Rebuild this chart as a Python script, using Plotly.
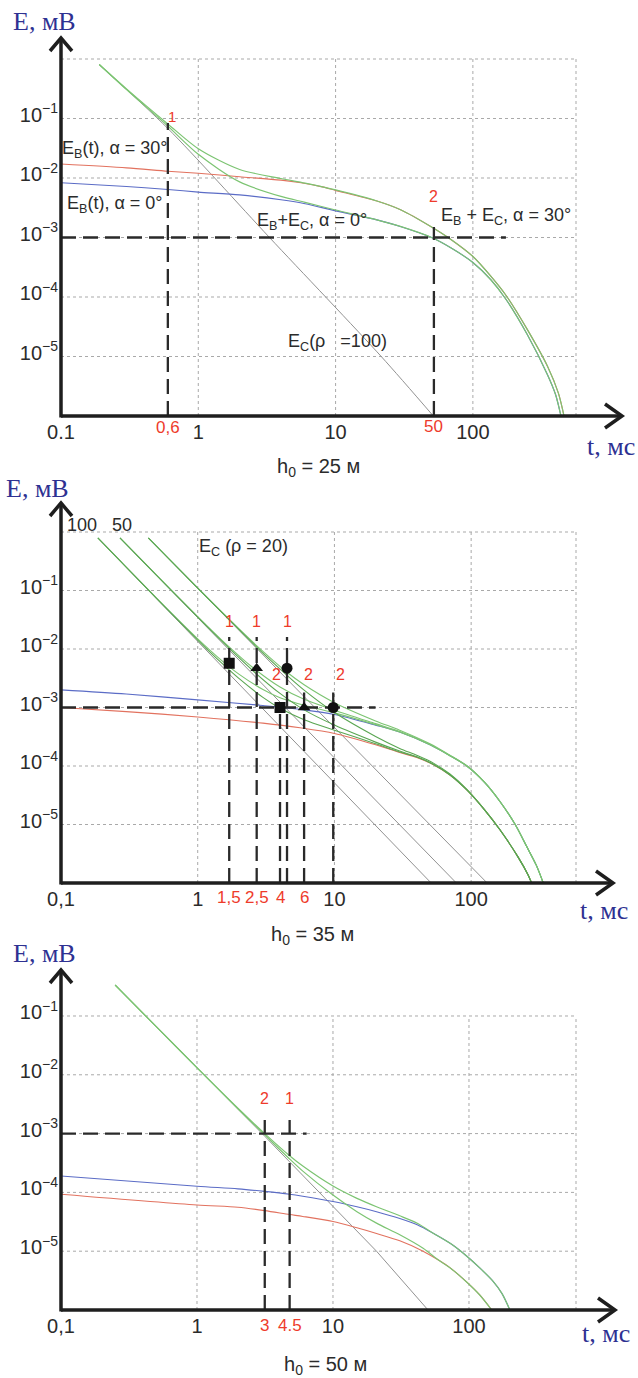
import math
import plotly.graph_objects as go

# ---------------- DATA ----------------
# Panel 1: h0 = 25 m
T1_GRAY = [0.19, 0.6, 3.3, 21.5, 51.5]
E1_GRAY = [0.80, 0.068, 1e-3, 1e-5, 1e-6]
T1_RED = [0.1, 0.3, 0.6, 1, 2, 4, 5.6, 8, 10, 20, 30, 50, 70, 100, 135, 175, 250, 350, 420, 461]
E1_RED = [0.0172, 0.0148, 0.013, 0.012, 0.0105, 0.0092, 0.0083, 0.0071, 0.0062, 0.0041, 0.0029,
          0.0015, 9.1e-4, 4.8e-4, 2.24e-4, 1.05e-4, 2.8e-5, 6.8e-6, 2.4e-6, 1e-6]
T1_BLUE = [0.1, 0.3, 0.6, 1, 2, 4, 6, 10, 20, 30, 50, 70, 100, 135, 175, 250, 350, 400, 438]
E1_BLUE = [0.0083, 0.0072, 0.0064, 0.0058, 0.0052, 0.0043, 0.0037, 0.0028, 0.00198, 0.00152,
           1e-3, 6.6e-4, 3.8e-4, 1.95e-4, 9.0e-5, 2.3e-5, 4.9e-6, 2.3e-6, 1e-6]
T1_G30 = [0.19, 0.3, 0.6, 1, 2, 4, 6, 10, 20, 30, 50, 70, 100, 135, 175, 250, 350, 420, 461]
E1_G30 = [0.81, 0.315, 0.081, 0.031, 0.0139, 0.0098, 0.0082, 0.0063, 0.0041, 0.0029, 0.0015,
          9.1e-4, 4.8e-4, 2.24e-4, 1.05e-4, 2.8e-5, 6.8e-6, 2.4e-6, 1e-6]
T1_G0 = [0.19, 0.3, 0.6, 1, 2, 4, 6, 10, 20, 30, 50, 70, 100, 135, 175, 250, 350, 400, 438]
E1_G0 = [0.81, 0.307, 0.0744, 0.025, 0.0086, 0.0049, 0.0039, 0.0029, 0.00198, 0.00152, 1e-3,
         6.6e-4, 3.8e-4, 1.95e-4, 9.0e-5, 2.3e-5, 4.9e-6, 2.3e-6, 1e-6]
GUIDE1_H_T = [0.1, 174]
GUIDE1_H_E = [1e-3, 1e-3]
GUIDE1_V_T = [0.6, 52]
GUIDE1_V_TOP = [0.084, 0.0015]

# Panel 2: h0 = 35 m
T2_GRAY100 = [0.186, 51]
E2_GRAY100 = [0.79, 1e-6]
T2_GRAY50 = [0.27, 78]
E2_GRAY50 = [0.79, 1e-6]
T2_GRAY20 = [0.435, 131]
E2_GRAY20 = [0.79, 1e-6]
T2_BLUE = [0.1, 0.3, 1, 3, 5.6, 10, 20, 30, 50, 70, 93, 125, 162, 210, 255, 300, 337]
E2_BLUE = [0.0020, 0.0017, 0.00135, 0.00108, 9.3e-4, 7.6e-4, 5.0e-4, 3.8e-4, 2.3e-4, 1.5e-4,
           1.0e-4, 5.3e-5, 2.5e-5, 1.0e-5, 4.2e-6, 2.0e-6, 1e-6]
T2_RED = [0.1, 0.3, 1, 3, 5.6, 10, 20, 30, 40, 53, 70, 93, 125, 162, 220, 260, 277]
E2_RED = [1.0e-3, 8.5e-4, 6.9e-4, 5.4e-4, 4.5e-4, 3.6e-4, 2.3e-4, 1.7e-4, 1.4e-4, 1.05e-4,
          7.0e-5, 3.9e-5, 1.8e-5, 8.2e-6, 2.8e-6, 1.4e-6, 1e-6]
T2_G100B = [0.186, 0.5, 1, 1.5, 2, 3, 4, 6, 10, 20, 30, 50, 70, 93, 125, 162, 210, 255, 300, 337]
E2_G100B = [0.792, 0.0739, 0.0149, 0.00633, 0.00372, 0.00203, 0.00147, 0.00109, 8.1e-4, 5.1e-4,
            3.8e-4, 2.3e-4, 1.5e-4, 1.0e-4, 5.3e-5, 2.5e-5, 1.0e-5, 4.2e-6, 2.0e-6, 1e-6]
T2_G100R = [0.186, 0.5, 1, 1.5, 2, 3, 4, 6, 10, 20, 30, 40, 53, 70, 93, 125, 162, 220, 260, 277]
E2_G100R = [0.791, 0.0732, 0.0142, 0.00572, 0.00314, 0.00149, 9.7e-4, 6.2e-4, 4.1e-4, 2.4e-4,
            1.74e-4, 1.42e-4, 1.06e-4, 7.0e-5, 3.9e-5, 1.8e-5, 8.2e-6, 2.8e-6, 1.4e-6, 1e-6]
T2_G50B = [0.27, 0.5, 1, 1.5, 2.5, 4, 6, 10, 20, 30, 50, 70, 93, 125, 162, 210, 255, 300, 337]
E2_G50B = [0.792, 0.1825, 0.0357, 0.0142, 0.00493, 0.00224, 0.00138, 9.0e-4, 5.3e-4, 3.9e-4,
           2.32e-4, 1.5e-4, 1.0e-4, 5.3e-5, 2.5e-5, 1.0e-5, 4.2e-6, 2.0e-6, 1e-6]
T2_G50R = [0.27, 0.5, 1, 1.5, 2.5, 4, 6, 10, 20, 30, 40, 53, 70, 93, 125, 162, 220, 260, 277]
E2_G50R = [0.791, 0.1818, 0.0350, 0.0136, 0.00438, 0.00174, 9.1e-4, 5.0e-4, 2.56e-4, 1.8e-4,
           1.44e-4, 1.07e-4, 7.1e-5, 3.9e-5, 1.8e-5, 8.2e-6, 2.8e-6, 1.4e-6, 1e-6]
T2_G20B = [0.435, 1, 2, 3, 4.5, 6, 10, 20, 30, 50, 70, 93, 125, 162, 210, 255, 300, 337]
E2_G20B = [0.792, 0.1103, 0.0222, 0.0091, 0.0040, 0.00245, 0.00121, 5.9e-4, 4.1e-4, 2.4e-4,
           1.53e-4, 1.01e-4, 5.3e-5, 2.5e-5, 1.0e-5, 4.2e-6, 2.0e-6, 1e-6]
T2_G20R = [0.435, 1, 2, 3, 4.5, 6, 10, 20, 30, 40, 53, 70, 93, 125, 162, 220, 260, 277]
E2_G20R = [0.791, 0.1097, 0.0216, 0.0085, 0.00354, 0.00198, 8.2e-4, 3.2e-4, 2.0e-4, 1.52e-4,
           1.12e-4, 7.3e-5, 4.0e-5, 1.8e-5, 8.2e-6, 2.8e-6, 1.4e-6, 1e-6]
MK_SQ_T = [1.7, 4.0]
MK_SQ_E = [0.0057, 1.0e-3]
MK_TR_T = [2.7, 6.0]
MK_TR_E = [0.0047, 1.0e-3]
MK_CI_T = [4.5, 9.8]
MK_CI_E = [0.0047, 1.0e-3]
GUIDE2_H_T = [0.1, 20]
GUIDE2_H_E = [1e-3, 1e-3]
GUIDE2_V_T = [1.7, 2.7, 4.5, 4.0, 6.0, 9.8]
GUIDE2_V_TOP = [0.016, 0.016, 0.016, 1e-3, 1.8e-3, 1.8e-3]

# Panel 3: h0 = 50 m
T3_GRAY = [0.25, 3.15, 20.9, 50]
E3_GRAY = [0.336, 9.0e-4, 1e-5, 1e-6]
T3_BLUE = [0.1, 1, 2, 3.15, 4.8, 6, 10, 15, 20.9, 31, 42, 55, 75, 96, 120, 150, 175, 200]
E3_BLUE = [1.9e-4, 1.27e-4, 1.15e-4, 1.04e-4, 9.3e-5, 8.6e-5, 7.0e-5, 5.7e-5, 4.7e-5, 3.6e-5,
           2.8e-5, 2.0e-5, 1.3e-5, 8.3e-6, 5.2e-6, 3.1e-6, 1.9e-6, 1e-6]
T3_RED = [0.1, 1, 2, 3.15, 4.8, 6, 10, 15, 20.9, 31, 46, 60, 72, 96, 120, 147]
E3_RED = [9.3e-5, 6.1e-5, 5.6e-5, 4.9e-5, 4.2e-5, 3.9e-5, 3.2e-5, 2.5e-5, 2.0e-5, 1.5e-5,
          1.0e-5, 7.0e-6, 5.3e-6, 3.0e-6, 1.8e-6, 1e-6]
T3_GB = [0.25, 0.5, 1, 2, 3.15, 4.8, 6, 10, 15, 20.9, 31, 42, 55, 75, 96, 120, 150, 175, 200]
E3_GB = [0.336, 0.0666, 0.0132, 0.0027, 1.0e-3, 4.2e-4, 2.8e-4, 1.28e-4, 7.9e-5, 5.7e-5, 4.0e-5,
         2.96e-5, 2.0e-5, 1.3e-5, 8.3e-6, 5.2e-6, 3.1e-6, 1.9e-6, 1e-6]
T3_GR = [0.25, 0.5, 1, 2, 3.15, 4.8, 6, 10, 15, 20.9, 31, 46, 60, 72, 96, 120, 147]
E3_GR = [0.336, 0.0665, 0.0131, 0.00264, 9.5e-4, 3.7e-4, 2.3e-4, 9.0e-5, 4.7e-5, 3.0e-5, 1.9e-5,
         1.12e-5, 7.0e-6, 5.3e-6, 3.0e-6, 1.8e-6, 1e-6]
GUIDE3_H_T = [0.1, 6.4]
GUIDE3_H_E = [1e-3, 1e-3]
GUIDE3_V_T = [3.15, 4.8]
GUIDE3_V_TOP = [1.7e-3, 1.7e-3]

# tick labels
XTICK_VALS = [0.1, 1, 10, 100]
XTICK_TEXT_1 = ["0.1", "1", "10", "100"]
XTICK_TEXT_23 = ["0,1", "1", "10", "100"]
YTICK_VALS = [1e-1, 1e-2, 1e-3, 1e-4, 1e-5]
YTICK_TEXT = ["10<sup>\u22121</sup>", "10<sup>\u22122</sup>", "10<sup>\u22123</sup>",
              "10<sup>\u22124</sup>", "10<sup>\u22125</sup>"]
GRID_T = [1, 10, 100]
GRID_E_1 = [1e0, 1e-1, 1e-2, 1e-3, 1e-4, 1e-5]
GRID_E_3 = [1e-1, 1e-2, 1e-3, 1e-4, 1e-5]

# ---------------- LAYOUT ----------------
W, H = 638, 1378
P = [
    dict(x0=61, x1=576, xr=(-1, 2.751), yb=416, yt=59, yr=(-6, 0), gtop=1e0, arrow_x=622, arrow_y=38),
    dict(x0=61, x1=576, xr=(-1, 2.767), yb=883, yt=532, yr=(-6, 0), gtop=1e0, arrow_x=613, arrow_y=503),
    dict(x0=61, x1=576, xr=(-1, 2.787), yb=1310, yt=975, yr=(-6, -0.303), gtop=1e-1, arrow_x=615, arrow_y=970),
]


def X(p, t):
    return p['x0'] + (math.log10(t) - p['xr'][0]) / (p['xr'][1] - p['xr'][0]) * (p['x1'] - p['x0'])


def Y(p, e):
    return p['yb'] - (math.log10(e) - p['yr'][0]) / (p['yr'][1] - p['yr'][0]) * (p['yb'] - p['yt'])


def px(x):
    return x / W


def py(y):
    return 1 - y / H


SANS = "Liberation Sans, Arial, sans-serif"
SERIF = "Liberation Serif, Times New Roman, serif"
NAVY = "#2e3192"
RED_TXT = "#ee3b2b"
TXT = "#2b2b2b"
C_RED = "#e2725f"
C_BLUE = "#5b6cc6"
C_GREEN = "#7cc472"
C_DGREEN = "#5aa652"
C_GRAY = "#929292"
C_GUIDE = "#2a2a2a"

fig = go.Figure()
ax = ['', '2', '3']


def line(i, t, e, color, width=1.1, dash=None, shape='spline'):
    fig.add_trace(go.Scatter(
        x=t, y=e, mode='lines', xaxis='x' + ax[i], yaxis='y' + ax[i],
        line=dict(color=color, width=width, dash=dash, shape=shape, smoothing=0.8),
        hoverinfo='skip', showlegend=False))


GD = "15px,7px"
# Panel 1
line(0, T1_GRAY, E1_GRAY, C_GRAY, 1.0)
line(0, T1_RED, E1_RED, C_RED)
line(0, T1_BLUE, E1_BLUE, C_BLUE)
line(0, T1_G30, E1_G30, C_GREEN, 1.2)
line(0, T1_G0, E1_G0, C_GREEN, 1.2)
line(0, GUIDE1_H_T, GUIDE1_H_E, C_GUIDE, 2.3, GD, 'linear')
for t, top in zip(GUIDE1_V_T, GUIDE1_V_TOP):
    line(0, [t, t], [1e-6, top], C_GUIDE, 2.3, GD, 'linear')

# Panel 2
for t, e in [(T2_GRAY100, E2_GRAY100), (T2_GRAY50, E2_GRAY50), (T2_GRAY20, E2_GRAY20)]:
    line(1, t, e, C_GRAY, 1.0, None, 'linear')
line(1, T2_RED, E2_RED, C_RED)
line(1, T2_BLUE, E2_BLUE, C_BLUE)
for t, e, c in [(T2_G100B, E2_G100B, C_GREEN), (T2_G100R, E2_G100R, C_DGREEN),
                (T2_G50B, E2_G50B, C_GREEN), (T2_G50R, E2_G50R, C_DGREEN),
                (T2_G20B, E2_G20B, C_GREEN), (T2_G20R, E2_G20R, C_DGREEN)]:
    line(1, t, e, c, 1.1)
line(1, GUIDE2_H_T, GUIDE2_H_E, C_GUIDE, 2.3, GD, 'linear')
for t, top in zip(GUIDE2_V_T, GUIDE2_V_TOP):
    line(1, [t, t], [1e-6, top], C_GUIDE, 2.3, GD, 'linear')
for t, e, sym, sz in [(MK_SQ_T, MK_SQ_E, 'square', 11), (MK_TR_T, MK_TR_E, 'triangle-up', 11),
                      (MK_CI_T, MK_CI_E, 'circle', 11)]:
    fig.add_trace(go.Scatter(x=t, y=e, mode='markers', xaxis='x2', yaxis='y2',
                             marker=dict(symbol=sym, size=sz, color='#111111'),
                             hoverinfo='skip', showlegend=False))

# Panel 3
line(2, T3_GRAY, E3_GRAY, C_GRAY, 1.0, None, 'linear')
line(2, T3_RED, E3_RED, C_RED)
line(2, T3_BLUE, E3_BLUE, C_BLUE)
line(2, T3_GB, E3_GB, C_GREEN, 1.2)
line(2, T3_GR, E3_GR, C_GREEN, 1.2)
line(2, GUIDE3_H_T, GUIDE3_H_E, C_GUIDE, 2.3, GD, 'linear')
for t, top in zip(GUIDE3_V_T, GUIDE3_V_TOP):
    line(2, [t, t], [1e-6, top], C_GUIDE, 2.3, GD, 'linear')

# ---------------- axes ----------------
layout_axes = {}
for i, p in enumerate(P):
    xa = 'xaxis' + ax[i]
    ya = 'yaxis' + ax[i]
    layout_axes[xa] = dict(
        type='log', range=list(p['xr']), domain=[px(p['x0']), px(p['x1'])], automargin=False,
        anchor='y' + ax[i], showgrid=False, zeroline=False, showline=False, ticks='',
        tickvals=XTICK_VALS, ticktext=XTICK_TEXT_1 if i == 0 else XTICK_TEXT_23,
        tickfont=dict(family=SANS, size=20, color=TXT), ticklabelstandoff=2, fixedrange=True)
    layout_axes[ya] = dict(
        type='log', range=list(p['yr']), domain=[py(p['yb']), py(p['yt'])], automargin=False,
        anchor='x' + ax[i], showgrid=False, zeroline=False, showline=False, ticks='',
        tickvals=YTICK_VALS, ticktext=YTICK_TEXT, ticklabelshift=-4,
        tickfont=dict(family=SANS, size=20, color=TXT), ticklabelstandoff=2, fixedrange=True)

shapes = []
GRID = dict(color="#a9a9a9", width=1, dash="3px,3px")
for i, p in enumerate(P):
    ytop_px = Y(p, p['gtop'])
    for t in GRID_T:
        xx = X(p, t)
        shapes.append(dict(type='line', xref='paper', yref='paper', layer='below',
                           x0=px(xx), x1=px(xx), y0=py(p['yb']), y1=py(ytop_px), line=GRID))
    shapes.append(dict(type='line', xref='paper', yref='paper', layer='below',
                       x0=px(p['x1']), x1=px(p['x1']), y0=py(p['yb']), y1=py(ytop_px), line=GRID))
    for e in (GRID_E_1 if i < 2 else GRID_E_3):
        yy = Y(p, e)
        shapes.append(dict(type='line', xref='paper', yref='paper', layer='below',
                           x0=px(p['x0']), x1=px(p['x1']), y0=py(yy), y1=py(yy), line=GRID))
    AX = dict(color="#1e1e1e", width=3.5)
    shapes.append(dict(type='line', xref='paper', yref='paper', x0=px(p['x0']), x1=px(p['arrow_x'] - 1),
                       y0=py(p['yb']), y1=py(p['yb']), line=AX))
    shapes.append(dict(type='line', xref='paper', yref='paper', x0=px(p['x0']), x1=px(p['x0']),
                       y0=py(p['yb'] + 1.5), y1=py(p['arrow_y'] + 1), line=AX))
    ax_, ay_ = p['arrow_x'], p['yb']
    shapes.append(dict(type='path', xref='paper', yref='paper', line=AX,
                       path=f"M {px(ax_-17)},{py(ay_-12)} L {px(ax_)},{py(ay_)} L {px(ax_-17)},{py(ay_+12)}"))
    bx, by = p['x0'], p['arrow_y']
    shapes.append(dict(type='path', xref='paper', yref='paper', line=AX,
                       path=f"M {px(bx-11)},{py(by+13)} L {px(bx)},{py(by)} L {px(bx+11)},{py(by+13)}"))

ann = []


def text(x, y, s, size=17, color=TXT, family=SANS, xanchor='center'):
    ann.append(dict(x=px(x), y=py(y), xref='paper', yref='paper', text=s, showarrow=False,
                    font=dict(size=size, color=color, family=family), xanchor=xanchor, yanchor='middle'))


def tpt(i, t, e, s, size=16, color=RED_TXT):
    text(X(P[i], t), Y(P[i], e), s, size, color)


for (cx, cy), (tx, ty), hlab, (hx, hy) in [((45, 22), (611, 447), "h<sub>0</sub> = 25 м", (318, 468)),
                                             ((37, 488), (604, 910), "h<sub>0</sub> = 35 м", (312, 935)),
                                             ((45, 953), (606, 1333), "h<sub>0</sub> = 50 м", (325, 1365))]:
    text(cx, cy, "E, мВ", 26, NAVY, SERIF)
    text(tx, ty, "t, мс", 26, NAVY, SERIF)
    text(hx, hy, hlab, 20, TXT, SANS)

# panel 1 labels
text(115, 150, "E<sub>В</sub>(t), α = 30°", 18)
text(115, 204, "E<sub>В</sub>(t), α = 0°", 18)
text(312, 222, "E<sub>В</sub>+E<sub>С</sub>, α = 0°", 18)
text(506, 216, "E<sub>В</sub> + E<sub>С</sub>, α = 30°", 18)
text(337, 342, "E<sub>С</sub>(ρ\u00a0\u00a0 =100)", 18)
tpt(0, 0.64, 0.11, "1", 15)
tpt(0, 52, 0.0048, "2", 16)
text(X(P[0], 0.6), 428, "0,6", 17, RED_TXT)
text(X(P[0], 52), 426, "50", 17, RED_TXT)

# panel 2 labels
text(82, 525, "100", 18)
text(122, 525, "50", 18)
text(243, 547, "E<sub>С</sub> (ρ = 20)", 18)
for t in [1.7, 2.7, 4.5]:
    tpt(1, t, 0.029, "1", 16)
for t in [3.78, 6.44, 11.0]:
    tpt(1, t, 0.0036, "2", 16)
for t, s in [(1.7, "1,5"), (2.7, "2,5"), (4.0, "4"), (6.0, "6")]:
    text(X(P[1], t), 897, s, 17, RED_TXT)

# panel 3 labels
tpt(2, 3.15, 0.0040, "2", 16)
tpt(2, 4.8, 0.0040, "1", 16)
text(X(P[2], 3.15), 1325, "3", 17, RED_TXT)
text(X(P[2], 4.8), 1325, "4.5", 17, RED_TXT)

fig.update_layout(width=W, height=H, margin=dict(l=0, r=0, t=0, b=0, autoexpand=False),
                  paper_bgcolor='white', plot_bgcolor='rgba(0,0,0,0)', showlegend=False,
                  shapes=shapes, annotations=ann, **layout_axes)

fig.write_html("out.html", config={'displayModeBar': False},
               post_script="document.body.style.margin='0px';")
